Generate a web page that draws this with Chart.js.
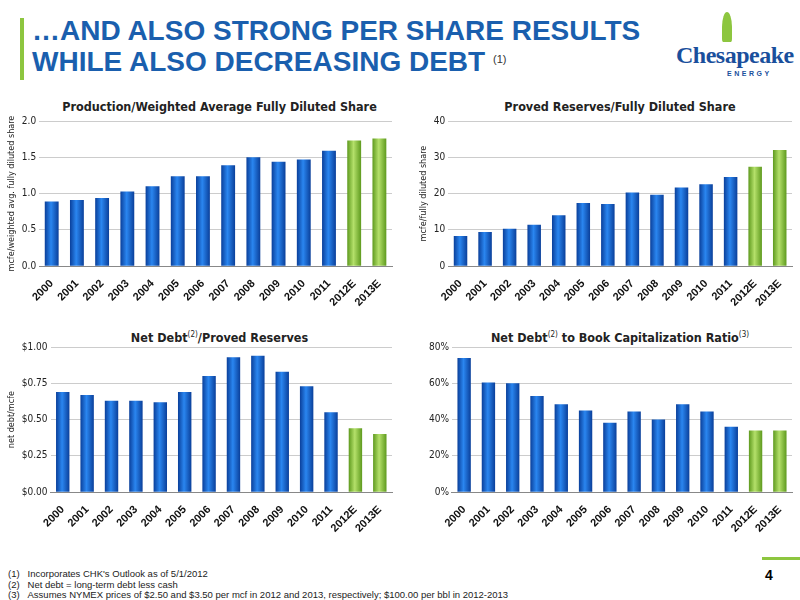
<!DOCTYPE html>
<html><head><meta charset="utf-8">
<script src="https://cdn.jsdelivr.net/npm/chart.js@4"></script>
<style>
body{margin:0;width:800px;height:600px;background:#fff;font-family:"Liberation Sans",Arial,sans-serif;position:relative;overflow:hidden}
.abs{position:absolute}
h1{position:absolute;left:32px;top:15px;margin:0;font:bold 28px/31px "Liberation Sans",Arial,sans-serif;color:#1a5fae;letter-spacing:0}
h1 sup{font-size:11px;font-weight:normal;color:#333;vertical-align:top;position:relative;top:-2px}
.ct{position:absolute;font:bold 12.5px "DejaVu Sans Condensed","Liberation Sans",sans-serif;color:#222;text-align:center}
.ct sup{font-size:8px;font-weight:normal}
.fn{position:absolute;left:8px;top:569px;font:9.5px/10.5px "Liberation Sans",Arial,sans-serif;color:#222}
</style></head><body>
<div class="abs" style="left:20px;top:18px;width:4px;height:62px;background:#8dc63f"></div>
<h1>…AND ALSO STRONG PER SHARE RESULTS<br>WHILE ALSO DECREASING DEBT <sup>(1)</sup></h1>
<div class="abs" style="left:676px;top:42px;font:bold 24px 'Liberation Serif',serif;color:#1a4f9c;letter-spacing:-0.5px">Chesapeake</div>
<div class="abs" style="left:727px;top:70px;font:bold 7px 'Liberation Sans';color:#1a4f9c;letter-spacing:2.5px">ENERGY</div>
<div class="abs" style="left:722px;top:12px;width:10px;height:30px;border-radius:50% 50% 10% 10%;background:#8dc63f"></div>
<div class="ct" style="left:47px;width:345px;top:99px">Production/Weighted Average Fully Diluted Share</div>
<div class="ct" style="left:450px;width:340px;top:99px">Proved Reserves/Fully Diluted Share</div>
<div class="ct" style="left:47px;width:345px;top:330px">Net Debt<sup>(2)</sup>/Proved Reserves</div>
<div class="ct" style="left:450px;width:340px;top:330px">Net Debt<sup>(2)</sup> to Book Capitalization Ratio<sup>(3)</sup></div>
<canvas id="c1" class="abs" style="left:0;top:112px"></canvas>
<canvas id="c2" class="abs" style="left:400px;top:112px"></canvas>
<canvas id="c3" class="abs" style="left:0;top:338px"></canvas>
<canvas id="c4" class="abs" style="left:400px;top:338px"></canvas>
<div class="abs" style="left:762px;top:557px;width:38px;height:3px;background:#8dc63f"></div>
<div class="abs" style="left:765px;top:567px;font:bold 14px 'Liberation Sans'">4</div>
<div class="fn">(1)&nbsp;&nbsp;&nbsp;Incorporates CHK's Outlook as of 5/1/2012<br>(2)&nbsp;&nbsp;&nbsp;Net debt = long-term debt less cash<br>(3)&nbsp;&nbsp;&nbsp;Assumes NYMEX prices of $2.50 and $3.50 per mcf in 2012 and 2013, respectively; $100.00 per bbl in 2012-2013</div>
<script>
const years=["2000","2001","2002","2003","2004","2005","2006","2007","2008","2009","2010","2011","2012E","2013E"];
const prodPerShare=[0.89,0.91,0.94,1.03,1.10,1.24,1.24,1.39,1.50,1.44,1.47,1.59,1.73,1.76];
const reservesPerShare=[8.3,9.4,10.3,11.4,14.0,17.4,17.1,20.3,19.7,21.7,22.6,24.6,27.4,32.0];
const netDebtPerReserves=[0.69,0.67,0.63,0.63,0.62,0.69,0.80,0.93,0.94,0.83,0.73,0.55,0.44,0.40];
const netDebtToCap=[74,60.5,60,53,48.5,45,38.3,44.5,40,48.5,44.5,36,34,34];

function colorFn(ctx){
  const ch=ctx.chart, a=ch.chartArea, proj=ctx.dataIndex>=12;
  if(!a||!ch.scales.x) return proj?'#7ab83a':'#1560c8';
  const xs=ch.scales.x, x=xs.getPixelForValue(ctx.dataIndex), w=(a.right-a.left)/years.length*0.55;
  const g=ch.ctx.createLinearGradient(x-w/2,0,x+w/2,0);
  if(proj){g.addColorStop(0,'#5e9a1e');g.addColorStop(0.45,'#b4e06a');g.addColorStop(1,'#5e9a1e');}
  else{g.addColorStop(0,'#0a3f9a');g.addColorStop(0.45,'#2a86f0');g.addColorStop(1,'#0a3f9a');}
  return g;
}
function make(id,w,h,data,max,step,fmt,ytitle,padL){
  const c=document.getElementById(id); c.width=w;c.height=h;c.style.width=w+'px';c.style.height=h+'px';
  new Chart(c,{type:'bar',data:{labels:years,datasets:[{data,backgroundColor:colorFn,barPercentage:0.55,categoryPercentage:1}]},
  options:{responsive:false,animation:false,devicePixelRatio:1,
    layout:{padding:{left:padL,right:8,top:4}},
    plugins:{legend:{display:false},tooltip:{enabled:false}},
    scales:{
      x:{grid:{display:false},border:{color:'#888'},ticks:{maxRotation:45,minRotation:45,color:'#111',font:{size:11,weight:'bold',family:'Liberation Sans'}}},
      y:{min:0,max,ticks:{stepSize:step,callback:fmt,color:'#222',font:{size:10,family:'DejaVu Sans Condensed'}},grid:{color:'#ccc',drawTicks:false},border:{display:false},
        title:{display:!!ytitle,text:ytitle,color:'#222',font:{size:9,family:'DejaVu Sans Condensed'},padding:2}}
    }}});
}
make('c1',400,200,prodPerShare,2.0,0.5,v=>v.toFixed(1),'mcfe/weighted avg. fully diluted share',4);
make('c2',400,200,reservesPerShare,40,10,v=>v,'mcfe/fully diluted share',16);
make('c3',400,200,netDebtPerReserves,1.0,0.25,v=>'$'+v.toFixed(2),'net debt/mcfe',4);
make('c4',400,200,netDebtToCap,80,20,v=>v+'%','',26);
</script>
</body></html>
